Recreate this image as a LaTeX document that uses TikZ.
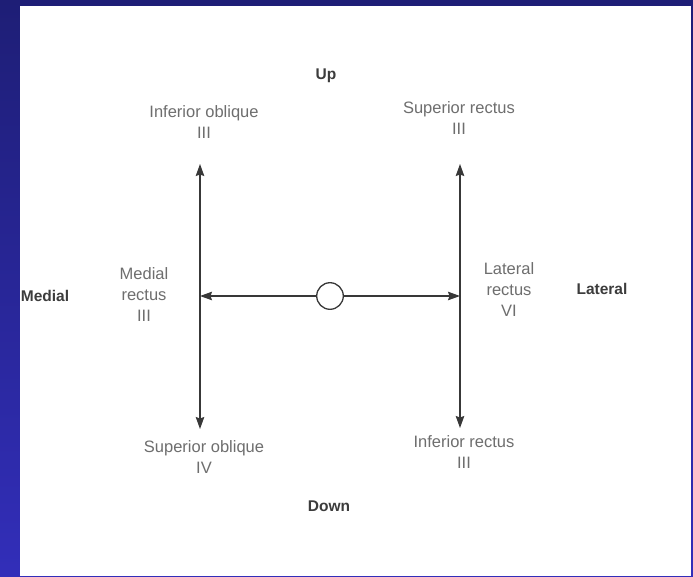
\documentclass[tikz,border=0pt]{standalone}
\usepackage{fontspec}
\setmainfont{Liberation Sans}
\usetikzlibrary{arrows.meta}

\definecolor{labelgray}{HTML}{6E6E6E}
\definecolor{headgray}{HTML}{3C3C3C}
\definecolor{linegray}{HTML}{383838}
\definecolor{slidetop}{RGB}{30,30,118}
\definecolor{slidebot}{RGB}{50,46,185}

\tikzset{
  muscle/.style={text=labelgray,font=\fontsize{16.5}{21}\selectfont,align=center},
  direction/.style={text=headgray,font=\bfseries\fontsize{15.5}{18}\selectfont},
  axis/.style={linegray,line width=1.3pt,<->},
  pull/.style={linegray,line width=1.2pt,->}
}

\begin{document}
\begin{tikzpicture}[x=1pt,y=-1pt,>={Stealth[length=12pt,width=8.5pt,inset=1.5pt]}]
% slide and paper
\shade[top color=slidetop,bottom color=slidebot] (0,0) rectangle (693,576);
\fill[white] (20,6) rectangle (691,576);
\useasboundingbox (0,0) rectangle (693,576);
% directions
\node[direction] (up) at (326,76) {Up};
\node[direction] (down) at (329,506) {Down};
\node[direction] (medial) at (45,296) {Medial};
\node[direction] (lateral) at (602,289) {Lateral};
% muscles and nerves
\node[muscle] (infobl) at (204,122) {Inferior oblique\\III};
\node[muscle] (suprec) at (459,118) {Superior rectus\\III};
\node[muscle] (medrec) at (144,295) {Medial\\rectus\\III};
\node[muscle] (latrec) at (509,290) {Lateral\\rectus\\VI};
\node[muscle] (supobl) at (204,457) {Superior oblique\\IV};
\node[muscle] (infrec) at (464,452) {Inferior rectus\\III};
% axes of pull
\coordinate (medtop) at (200,164);
\coordinate (medbot) at (200,429);
\coordinate (medmid) at (200,296);
\coordinate (lattop) at (460,164);
\coordinate (latbot) at (460,428);
\coordinate (latmid) at (460,296);
\draw[axis] (medtop) -- (medbot);
\draw[axis] (lattop) -- (latbot);
\node[circle,draw=linegray,line width=1.3pt,fill=white,minimum size=26.6pt,inner sep=0pt] (eye) at (330,296) {};
\draw[pull] (eye) -- (medmid);
\draw[pull] (eye) -- (latmid);
\end{tikzpicture}
\end{document}
